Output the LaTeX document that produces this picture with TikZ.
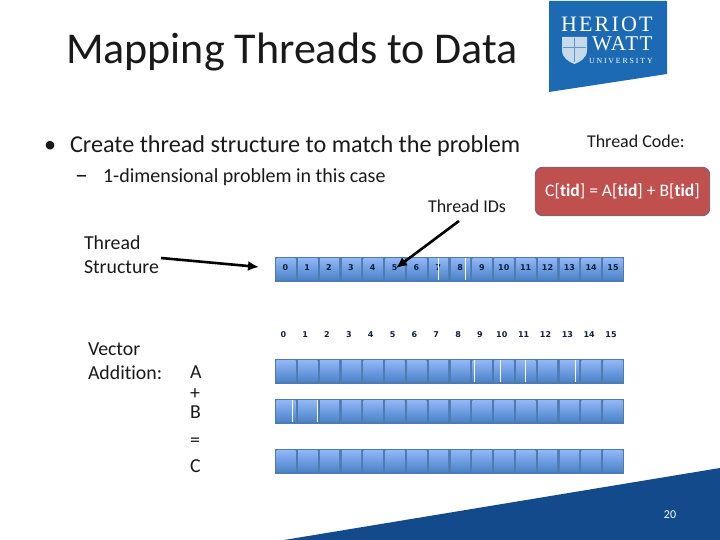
\documentclass[tikz,border=0pt]{standalone}
\usepackage{fontspec}
\setmainfont{Carlito}[Ligatures=NoCommon,Numbers=Lining]
\newfontfamily\logoa{Liberation Serif}[LetterSpace=10]
\newfontfamily\logob{Liberation Serif}[LetterSpace=7]
\newfontfamily\logowide{Liberation Serif}[LetterSpace=24]
\newfontfamily\numfont{DejaVu Sans}
\usetikzlibrary{arrows.meta}
\definecolor{barback}{HTML}{4F7CB0}
\definecolor{celltop}{HTML}{90B6F7}
\definecolor{cellbot}{HTML}{4C84CA}
\definecolor{numcol}{HTML}{10203A}
\definecolor{redbox}{HTML}{C0504D}
\definecolor{redline}{HTML}{8C5F73}
\definecolor{logoblue}{HTML}{1C6AB4}
\definecolor{footblue}{HTML}{124A8B}
\tikzset{
  every node/.style={inner sep=0pt,outer sep=0pt},
  txt/.style={anchor=base west,text=black!90},
  numlab/.style={font=\numfont\fontsize{8}{8}\selectfont\bfseries,text=numcol,anchor=center},
  barbox/.style={fill=barback,draw=none,minimum width=349pt,minimum height=25pt,anchor=north west},
  cellbox/.style={top color=celltop,bottom color=cellbot,draw=none,minimum width=19.2pt,minimum height=21pt,anchor=north west},
  crack/.style={draw=white,line width=1pt},
  bigarrow/.style={draw=black,line width=2.6pt,-{Latex[length=11pt,width=10pt]}},
  logotxt/.style={text=white,anchor=base west},
}
\begin{document}
\begin{tikzpicture}[x=1pt,y=-1pt]
\useasboundingbox (0,0) rectangle (720,540);
% footer
\fill[footblue] (284,540) -- (720,468) -- (720,540) -- cycle;
\node[text=white,font=\fontsize{12}{12}\selectfont] (page) at (670,515) {20};
% logo
\fill[logoblue] (549,1) -- (667,1) -- (667,74) -- (549,92) -- cycle;
\node[logotxt,font=\logoa\fontsize{22}{22}\selectfont] (lg1) at (561,31.5) {HERIOT};
\node[logotxt,font=\logob\fontsize{21}{21}\selectfont] (lg2) at (592,51) {WATT};
\node[logotxt,font=\logowide\fontsize{7.8}{7.8}\selectfont] (lg3) at (589,63.5) {UNIVERSITY};
\fill[white!75!logoblue] (562,37) -- (587,37) -- (587,50) .. controls (587,58) and (580,62) .. (574.5,64) .. controls (569,62) and (562,58) .. (562,50) -- cycle;
\draw[logoblue!70!white,line width=1pt] (574.5,38) -- (574.5,62) (563,48) -- (586,48);
% text
\node[txt,font=\fontsize{44}{44}\selectfont] (title) at (66,64) {Mapping Threads to Data};
\node[txt,font=\fontsize{24.2}{24.2}\selectfont] (bul) at (44,153) {•};
\node[txt,font=\fontsize{24.2}{24.2}\selectfont] (l1) at (70,153) {Create thread structure to match the problem};
\node[txt,font=\fontsize{26}{26}\selectfont] (dash) at (75,184) {–};
\node[txt,font=\fontsize{20}{20}\selectfont] (l2) at (103,183) {1-dimensional problem in this case};
\node[txt,font=\fontsize{18}{18}\selectfont] (tcode) at (587,148) {Thread Code:};
\node[txt,font=\fontsize{18}{18}\selectfont] (tids) at (428,212) {Thread IDs};
\node[txt,font=\fontsize{19.8}{19.8}\selectfont] (ts1) at (84,249) {Thread};
\node[txt,font=\fontsize{19.8}{19.8}\selectfont] (ts2) at (84,273) {Structure};
\node[txt,font=\fontsize{19.8}{19.8}\selectfont] (va1) at (88,355) {Vector};
\node[txt,font=\fontsize{19.8}{19.8}\selectfont] (va2) at (88,379) {Addition:};
\node[txt,font=\fontsize{19.8}{19.8}\selectfont] (a) at (190,378) {A};
\node[txt,font=\fontsize{19.8}{19.8}\selectfont] (plus) at (190,399) {+};
\node[txt,font=\fontsize{19.8}{19.8}\selectfont] (b) at (190,418) {B};
\node[txt,font=\fontsize{19.8}{19.8}\selectfont] (eq) at (190,446) {=};
\node[txt,font=\fontsize{19.8}{19.8}\selectfont] (c) at (190,472) {C};
% red box
\node[fill=redbox,draw=redline,line width=1.4pt,rounded corners=7pt,minimum width=174pt,minimum height=48pt,text=white,font=\fontsize{17.6}{17.6}\selectfont] (code) at (622.5,191.5) {C[\textbf{tid}] = A[\textbf{tid}] + B[\textbf{tid}]};
% bars
\foreach \r/\y in {t/257,a/359,b/399,c/449}{
  \node[barbox] (bar\r) at (275,\y) {};
  \foreach \i in {0,...,15}{
    \node[cellbox] (cell\r\i) at ({276.4+21.8*\i},{\y+1.5}) {};
  }
}
\foreach \i in {0,...,15}{
  \node[numlab] (n\i) at ({285.3+21.85*\i},268) {\i};
  \node[numlab] (m\i) at ({283.3+21.85*\i},335) {\i};
}
% white cracks
\foreach \x/\yy in {438.3/258,465.3/258,474.3/360,500.3/360,525.3/360,575.3/360,292.3/400,317.3/400}{
  \draw[crack] (\x,\yy) -- (\x,\yy+22);
}
% arrows
\coordinate (s1) at (161,258);
\coordinate (t1) at (259,267);
\coordinate (s2) at (459,221);
\coordinate (t2) at (396,268);
\draw[bigarrow] (s1) -- (t1);
\draw[bigarrow] (s2) -- (t2);
\end{tikzpicture}
\end{document}
